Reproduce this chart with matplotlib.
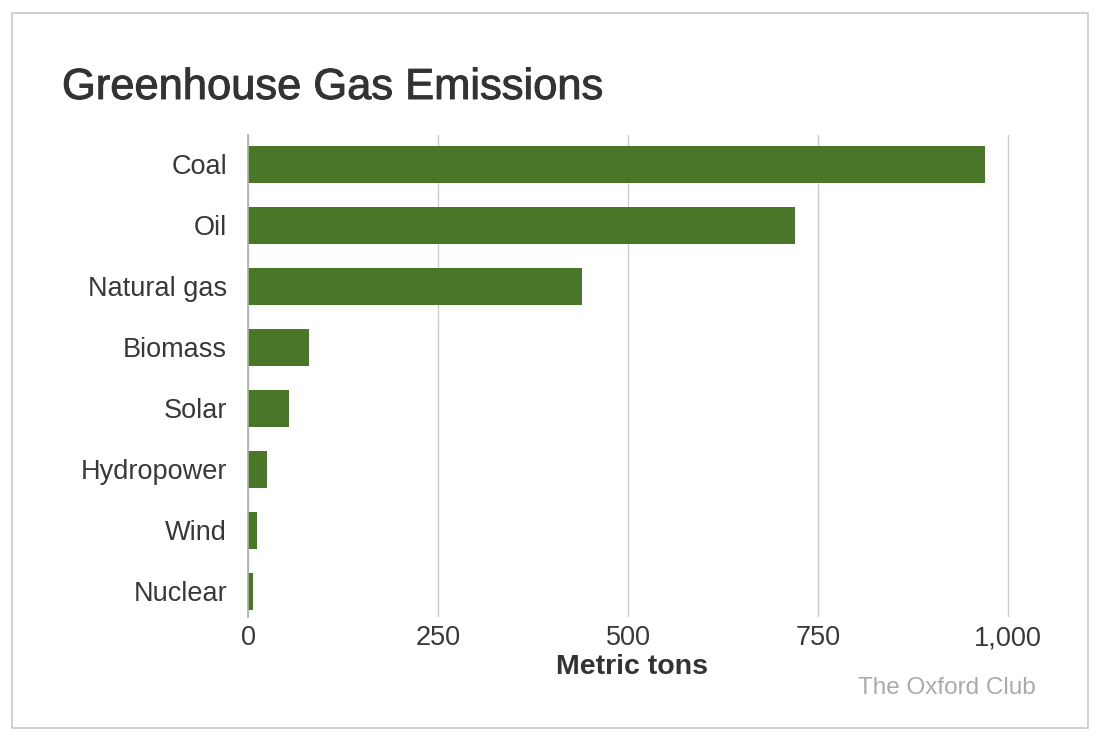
import matplotlib.pyplot as plt
import matplotlib.patheffects as pe
from matplotlib.patches import Rectangle

plt.rcParams['font.family'] = ['Liberation Sans', 'DejaVu Sans']

sources = ["Coal", "Oil", "Natural gas", "Biomass", "Solar", "Hydropower", "Wind", "Nuclear"]
emissions = [970, 720, 440, 80, 54, 25, 12, 6]
xticks = [0, 250, 500, 750, 1000]
xtick_labels = ["0", "250", "500", "750", "1,000"]

fig = plt.figure(figsize=(11, 7.41), dpi=100)
fig.patches.append(Rectangle((12 / 1100, 13 / 741), 1076 / 1100, 715 / 741,
                             transform=fig.transFigure, fill=False,
                             edgecolor='#c8c8c8', linewidth=1.2))

# axes spans 0..1010 so the 1,000 gridline is not clipped
ax = fig.add_axes([248 / 1100, 1 - 617 / 741, 767.6 / 1100, 482 / 741])
ax.barh(range(len(sources)), emissions, height=0.6, color='#4a7628', zorder=3)
ax.set_ylim(7.42, -0.48)
ax.set_xlim(0, 1010)
ax.set_yticks(range(len(sources)))
ax.set_yticklabels(sources, fontsize=19.5, color='#383838')
ax.set_xticks(xticks)
ax.set_xticklabels(xtick_labels, fontsize=19.5, color='#383838')
ax.tick_params(length=0)
ax.tick_params(axis='x', pad=6)
ax.tick_params(axis='y', pad=15)
ax.grid(axis='x', color='#cccccc', linewidth=1, zorder=0)
for s in ['top', 'right', 'bottom']:
    ax.spines[s].set_visible(False)
ax.spines['left'].set_color('#b0b0b0')
ax.spines['left'].set_linewidth(1.2)
ax.spines['left'].set_zorder(4)
ax.set_xlabel("Metric tons", fontsize=20.5, fontweight='bold', color='#333333', labelpad=2)

fig.text(62 / 1100, 1 - 88 / 741, "Greenhouse Gas Emissions", fontsize=31.3,
         color='#333333', va='center', ha='left',
         path_effects=[pe.withStroke(linewidth=0.7, foreground='#333333')])
fig.text(1036 / 1100, 1 - 688 / 741, "The Oxford Club", fontsize=17.5,
         color='#aaaaaa', va='center', ha='right')

fig.savefig("out.png", dpi=100)
